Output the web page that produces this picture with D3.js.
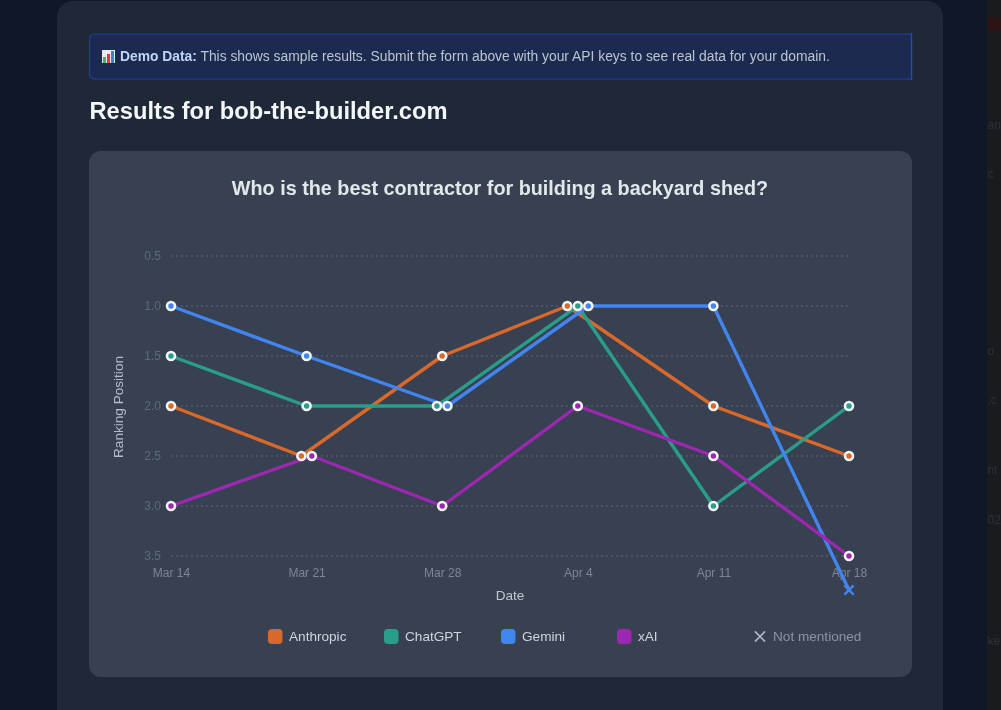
<!DOCTYPE html>
<html>
<head>
<meta charset="utf-8">
<script src="https://cdnjs.cloudflare.com/ajax/libs/d3/7.8.5/d3.min.js"></script>
<style>
html, body { margin: 0; padding: 0; background: #0f1826; overflow: hidden; }
svg { display: block; font-family: "Liberation Sans", Arial, sans-serif; filter: blur(0.35px); }
</style>
</head>
<body>
<div id="chart"></div>
<script>
const dates = ['Mar 14', 'Mar 21', 'Mar 28', 'Apr 4', 'Apr 11', 'Apr 18']
const ranks = [0.5, 1.0, 1.5, 2.0, 2.5, 3.0, 3.5]

// null = brand not mentioned that week
const anthropic = [2, 2.5, 1.5, 1, 2, 2.5]
const chatgpt = [1.5, 2, 2, 1, 3, 2]
const gemini = [1, 1.5, 2, 1, 1, null]
const xai = [3, 2.5, 3, 2, 2.5, 3.5]
const notMentionedRank = 3.84

const names = ['Anthropic', 'ChatGPT', 'Gemini', 'xAI']
const colors = ['#d9692b', '#2a9d8a', '#4285f0', '#9c27b0']
const values = [anthropic, chatgpt, gemini, xai]

const noticeBold = 'Demo Data:'
const noticeText = 'This shows sample results. Submit the form above with your API keys to see real data for your domain.'
const heading = 'Results for bob-the-builder.com'
const chartTitle = 'Who is the best contractor for building a backyard shed?'
const behindText = ['an', 'c', 'o', '.c', 'nt', '02', 'ke']

const width = 1001
const height = 710

const svg = d3.select('#chart')
    .append('svg')
    .attr('width', width)
    .attr('height', height)

// page behind the panel
svg.append('rect').attr('width', width).attr('height', height).attr('fill', '#0f1826')
svg.append('rect').attr('x', 987).attr('width', 14).attr('height', height).attr('fill', '#191b1f')
svg.append('rect').attr('x', 987).attr('y', 17).attr('width', 14).attr('height', 14).attr('fill', '#2a1416')
svg.selectAll('text.behind')
    .data(behindText)
    .enter()
    .append('text')
    .attr('class', 'behind')
    .attr('x', 987.5)
    .attr('y', (d, i) => [129, 178, 355, 404, 474, 524, 645][i])
    .attr('font-size', 12)
    .attr('fill', '#2e3136')
    .text(d => d)

// panel
svg.append('rect')
    .attr('x', 57).attr('y', 1).attr('width', 886).attr('height', 740).attr('rx', 16)
    .attr('fill', '#1e2836')

// demo notice: rounded on the left, square on the right
const noticeShape = d3.path()
noticeShape.moveTo(911.5, 34)
noticeShape.lineTo(95, 34)
noticeShape.arcTo(89.5, 34, 89.5, 40, 5)
noticeShape.lineTo(89.5, 73)
noticeShape.arcTo(89.5, 79, 95, 79, 5)
noticeShape.lineTo(911.5, 79)

svg.append('path')
    .attr('d', noticeShape.toString())
    .attr('fill', '#1b2a4e')
    .attr('stroke', '#21409f')
    .attr('stroke-width', 1.2)
svg.append('line')
    .attr('x1', 911.5).attr('x2', 911.5).attr('y1', 33).attr('y2', 80)
    .attr('stroke', '#2a45c0')
    .attr('stroke-width', 1.4)

const iconBars = [[0, 6, '#4caf50'], [4, 9, '#e53935'], [8, 12, '#3f7fd6']]
svg.append('rect').attr('x', 102).attr('y', 50).attr('width', 13).attr('height', 13).attr('fill', '#e8eaed')
svg.selectAll('rect.icon')
    .data(iconBars)
    .enter()
    .append('rect')
    .attr('class', 'icon')
    .attr('x', d => 103 + d[0])
    .attr('y', d => 63 - d[1])
    .attr('width', 3)
    .attr('height', d => d[1])
    .attr('fill', d => d[2])

const notice = svg.append('text')
    .attr('x', 120).attr('y', 61)
    .attr('font-size', 13.85)
    .attr('fill', '#bcc4d1')
notice.append('tspan').attr('font-weight', 'bold').attr('fill', '#bfd4f5').text(noticeBold)
notice.append('tspan').attr('dx', 3.5).text(noticeText)

svg.append('text')
    .attr('x', 89.5).attr('y', 119)
    .attr('font-size', 23.7)
    .attr('font-weight', 'bold')
    .attr('fill', '#f4f6f8')
    .text(heading)

// chart card
svg.append('rect')
    .attr('x', 89).attr('y', 151).attr('width', 823).attr('height', 526).attr('rx', 12)
    .attr('fill', '#374151')

svg.append('text')
    .attr('x', 500).attr('y', 194.5)
    .attr('text-anchor', 'middle')
    .attr('font-size', 19.8)
    .attr('font-weight', 'bold')
    .attr('fill', '#e3e7ec')
    .text(chartTitle)

const x = d3.scalePoint()
    .domain(dates)
    .range([171, 849])

const y = d3.scaleLinear()
    .domain([0.5, 3.5])
    .range([256, 556])

// grid
svg.selectAll('line.grid')
    .data(ranks)
    .enter()
    .append('line')
    .attr('class', 'grid')
    .attr('x1', 171)
    .attr('x2', 849)
    .attr('y1', d => y(d))
    .attr('y2', d => y(d))
    .attr('stroke', '#5d6675')
    .attr('stroke-width', 1)
    .attr('stroke-dasharray', '2,3')

// axes
const yAxis = svg.append('g')
    .attr('transform', 'translate(171,0)')
    .call(d3.axisLeft(y).tickValues(ranks).tickFormat(d3.format('.1f')).tickSize(0).tickPadding(10))
const xAxis = svg.append('g')
    .attr('transform', 'translate(0,556)')
    .call(d3.axisBottom(x).tickSize(0).tickPadding(12))
svg.selectAll('.domain').remove()
yAxis.selectAll('text').attr('font-size', 12).attr('fill', '#5f6a79').attr('font-family', 'inherit')
xAxis.selectAll('text').attr('font-size', 12).attr('fill', '#7d8693').attr('font-family', 'inherit')

svg.append('text')
    .attr('x', 510).attr('y', 600)
    .attr('text-anchor', 'middle')
    .attr('font-size', 13.6)
    .attr('fill', '#c2c8d0')
    .text('Date')

svg.append('text')
    .attr('transform', 'translate(122.5,407) rotate(-90)')
    .attr('text-anchor', 'middle')
    .attr('font-size', 13.6)
    .attr('fill', '#b5bcc6')
    .text('Ranking Position')

// Points sharing the same date and rank get spread out sideways
const dodgeStep = 10.5
const series = names.map((name, s) => ({
    name,
    color: colors[s],
    points: values[s].map((v, i) => {
        const mentioned = v !== null
        const rank = mentioned ? v : notMentionedRank
        const group = values.map(vals => vals[i]).filter(o => o === rank).length
        const before = values.slice(0, s).filter(vals => vals[i] === rank).length
        const dodge = mentioned ? (before - (group - 1) / 2) * dodgeStep : 0
        return { date: dates[i], rank, mentioned, px: x(dates[i]) + dodge, py: y(rank) }
    })
}))

const line = d3.line().x(d => d.px).y(d => d.py)

svg.selectAll('path.series')
    .data(series)
    .enter()
    .append('path')
    .attr('class', 'series')
    .attr('d', d => line(d.points))
    .attr('fill', 'none')
    .attr('stroke', d => d.color)
    .attr('stroke-width', 3.4)
    .attr('stroke-linejoin', 'round')

series.forEach(s => {
    svg.selectAll(null)
        .data(s.points.filter(p => p.mentioned))
        .enter()
        .append('circle')
        .attr('cx', p => p.px)
        .attr('cy', p => p.py)
        .attr('r', 4)
        .attr('fill', s.color)
        .attr('stroke', '#f3f5f7')
        .attr('stroke-width', 2.6)

    svg.selectAll(null)
        .data(s.points.filter(p => !p.mentioned))
        .enter()
        .append('path')
        .attr('d', d3.symbol(d3.symbolX, 58))
        .attr('transform', p => `translate(${p.px},${p.py})`)
        .attr('fill', 'none')
        .attr('stroke', s.color)
        .attr('stroke-width', 2.4)
})

// legend
const legendX = d3.scaleOrdinal().domain(names).range([268, 384, 501, 617])
const legend = svg.selectAll('g.legend')
    .data(series)
    .enter()
    .append('g')
    .attr('class', 'legend')
    .attr('transform', d => `translate(${legendX(d.name)},629)`)
legend.append('rect')
    .attr('width', 14.5).attr('height', 15).attr('rx', 4)
    .attr('fill', d => d.color)
legend.append('text')
    .attr('x', 21).attr('y', 12)
    .attr('font-size', 13.6)
    .attr('fill', '#cfd4db')
    .text(d => d.name)

svg.append('path')
    .attr('d', d3.symbol(d3.symbolX, 70))
    .attr('transform', 'translate(760,636.5)')
    .attr('fill', 'none')
    .attr('stroke', '#aab1bb')
    .attr('stroke-width', 1.8)
svg.append('text')
    .attr('x', 773).attr('y', 641)
    .attr('font-size', 13.6)
    .attr('fill', '#8b94a1')
    .text('Not mentioned')
</script>
</body>
</html>
